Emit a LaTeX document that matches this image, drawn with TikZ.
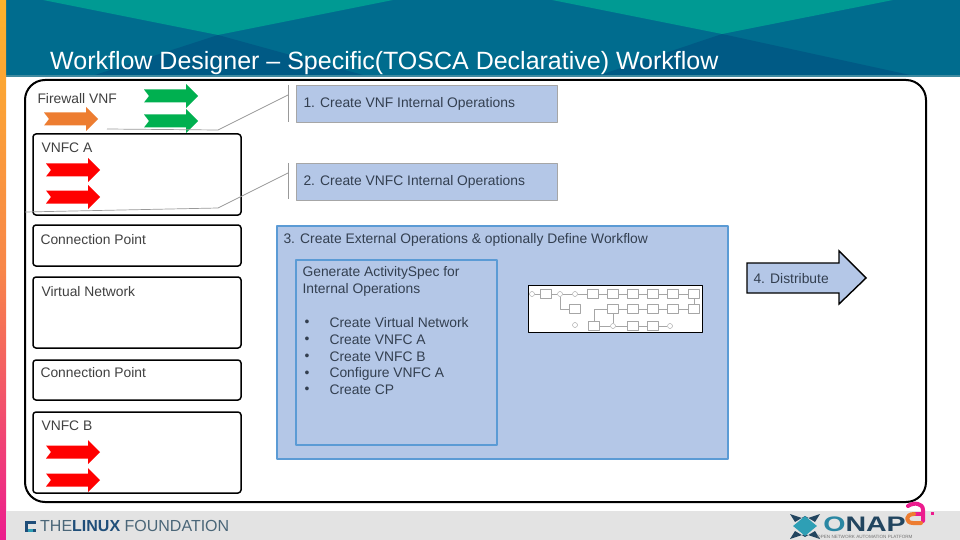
\documentclass[tikz,border=0pt]{standalone}
\usepackage{fontspec}
\setmainfont{Liberation Sans}
\usetikzlibrary{shapes.geometric}
\definecolor{bandblue}{HTML}{006C8E}
\definecolor{banddark}{HTML}{005A85}
\definecolor{bandteal}{HTML}{009A93}
\definecolor{bandedge}{HTML}{3F8AA0}
\definecolor{boxblue}{HTML}{B4C7E7}
\definecolor{edgeblue}{HTML}{5B9BD5}
\definecolor{bodytext}{HTML}{404040}
\definecolor{steptext}{HTML}{333F50}
\definecolor{lfblue}{HTML}{1F4E79}
\definecolor{lfgray}{HTML}{4A6678}
\definecolor{arrowgreen}{HTML}{00B050}
\definecolor{arroworange}{HTML}{ED7D31}
\definecolor{stripetop}{HTML}{FDB32B}
\definecolor{stripebot}{HTML}{EC1C8E}
\definecolor{onapteal}{HTML}{2E9FB5}
\definecolor{onapdark}{HTML}{22455F}
\tikzset{
	flowarrow/.pic={\fill[#1] (0,-6.5)--(42,-6.5)--(42,-12)--(54,0)--(42,12)--(42,6.5)--(0,6.5)--(5,0)--cycle;},
	partbox/.style={draw=black,line width=1.5pt,rounded corners=3pt,fill=white},
	partlabel/.style={anchor=west,yshift=-1pt,text=bodytext,font=\fontsize{13.85}{15}\selectfont},
	steplabel/.style={partlabel,text=steptext},
	stepbox/.style={draw=black!35,fill=boxblue,anchor=north west,minimum width=261pt,minimum height=37pt,inner sep=0pt},
	calloutline/.style={draw=gray!80,line width=0.7pt},
	mini/.style={draw=gray!70,line width=0.4pt,fill=white,minimum width=11pt,minimum height=9pt,inner sep=0pt},
	miniround/.style={draw=gray!80,line width=0.4pt,circle,fill=white,minimum size=5pt,inner sep=0pt}
}
\begin{document}
\begin{tikzpicture}[x=1pt,y=-1pt,line join=round]
	\useasboundingbox (0,0) rectangle (960,540);
	% header band
	\fill[bandblue] (0,0) rectangle (960,76);
	\fill[bandedge] (0,75) rectangle (960,77);
	\fill[bandteal] (43,0)--(218,35)--(393,0)--cycle;
	\fill[bandteal] (552,0)--(722,34)--(893,0)--cycle;
	\fill[banddark] (218,35)--(95,75)--(363,75)--cycle;
	\fill[banddark] (722,34)--(600,75)--(910,75)--cycle;
	\shade[top color=stripetop,bottom color=stripebot,middle color=stripetop!70!stripebot] (0,0) rectangle (6,540);
	\fill[black!11] (6,511) rectangle (960,540);
	\node[anchor=base west,inner sep=0pt,text=white,font=\fontsize{25}{28}\selectfont] (title) at (50,70) {Workflow Designer – Specific(TOSCA Declarative) Workflow};
	% outer frame
	\draw[line width=2pt,rounded corners=20pt,fill=white] (25,80) rectangle (926,502);
	\node[partlabel] (firewall) at (34,98) {Firewall VNF};
	\path (44,119) pic {flowarrow=arroworange};
	\foreach \y in {96,121} \path (144,\y) pic {flowarrow=arrowgreen};
	% parts
	\draw[partbox] (33,134) rectangle (241,215);
	\draw[partbox] (33,225) rectangle (241,266);
	\draw[partbox] (33,277) rectangle (241,348);
	\draw[partbox] (33,360) rectangle (241,400);
	\draw[partbox] (33,412) rectangle (241,493);
	\node[partlabel] (vnfca) at (38,147) {VNFC A};
	\node[partlabel] (cpa) at (37,239) {Connection Point};
	\node[partlabel] (vnet) at (38,291) {Virtual Network};
	\node[partlabel] (cpb) at (37,372) {Connection Point};
	\node[partlabel] (vnfcb) at (38,425) {VNFC B};
	\foreach \y in {170,197,452,480} \path (46,\y) pic {flowarrow=red};
	% steps
	\node[stepbox] (one) at (296,85) {};
	\node[steplabel] at (300,103) {1. Create VNF Internal Operations};
	\node[stepbox] (two) at (296,163) {};
	\node[steplabel] at (300,181) {2. Create VNFC Internal Operations};
	\coordinate (onea) at (107,129);
	\coordinate (oneb) at (218,130);
	\coordinate (onec) at (288,95);
	\coordinate (twoa) at (25,212);
	\coordinate (twob) at (218,208);
	\coordinate (twoc) at (288,173);
	\draw[calloutline] (onea)--(oneb)--(onec);
	\draw[calloutline] (twoa)--(twob)--(twoc);
	\draw[calloutline] (288,85)--(288,122);
	\draw[calloutline] (288,163)--(288,199);
	% external operations
	\draw[edgeblue,line width=1.3pt,fill=boxblue] (277,226) rectangle (728,459);
	\draw[edgeblue,line width=1.3pt] (296,260) rectangle (497,445);
	\node[steplabel] (three) at (280,239) {3. Create External Operations \& optionally Define Workflow};
	\node[steplabel,align=left] (spec) at (299,280.5) {Generate ActivitySpec for\\[1.4pt]Internal Operations};
	\foreach \y/\t in {322/Create Virtual Network,339/Create VNFC A,356/Create VNFC B,373/Configure VNFC A,389/Create CP}{
		\node[steplabel] at (301,\y) {•};
		\node[steplabel] at (326,\y) {\t};
	}
	% small workflow picture
	\draw[line width=1pt,fill=white] (528,285) rectangle (702,332);
	\node[miniround] (s) at (532,294) {};
	\node[mini] (a1) at (546,294) {};
	\node[miniround] (g1) at (560,294) {};
	\node[miniround] (g2) at (575,294) {};
	\node[mini] (a2) at (593,294) {};
	\node[mini] (a3) at (613,294) {};
	\node[mini] (a4) at (633,294) {};
	\node[mini] (a5) at (653,294) {};
	\node[mini] (a6) at (673,294) {};
	\node[mini] (a7) at (694,294) {};
	\node[mini] (b1) at (575,309) {};
	\node[mini] (b2) at (613,309) {};
	\node[mini] (b3) at (633,309) {};
	\node[mini] (b4) at (653,309) {};
	\node[mini] (b5) at (673,309) {};
	\node[mini] (b6) at (694,309) {};
	\node[mini] (c1) at (594,326) {};
	\node[miniround] (g3) at (613,326) {};
	\node[mini] (c2) at (633,326) {};
	\node[mini] (c3) at (653,326) {};
	\node[miniround] (e) at (670,326) {};
	\node[miniround] (lp) at (575,325) {};
	\foreach \p/\q in {s/a1,a1/g1,g1/g2,g2/a2,a2/a3,a3/a4,a4/a5,a5/a6,a6/a7,a7/b6,b6/b5,b5/b4,b4/b3,b3/b2,b2/g3,g3/c1,g3/c2,c2/c3,c3/e}
		\draw[gray!70,line width=0.4pt] (\p)--(\q);
	\draw[gray!70,line width=0.4pt] (g1)|-(b1);
	\draw[gray!70,line width=0.4pt] (c1)|-(b2);
	% distribute arrow
	\draw[line width=1.4pt,fill=boxblue,line join=miter] (747,263)--(839,263)--(839,251)--(866,278)--(839,304)--(839,293)--(747,293)--cycle;
	\node[steplabel] (dist) at (750,278) {4. Distribute};
	% footer logos
	\fill[lfblue] (25,521) rectangle (36,532);
	\fill[black!11] (28,524) rectangle (36,529);
	\fill[onapteal] (28,529) rectangle (33,532);
	\node[anchor=west,inner sep=0pt,text=lfgray,font=\fontsize{16}{17}\selectfont] (lf) at (40,526) {THE{\color{lfblue}\textbf{LINUX}} FOUNDATION};
	\fill[onapdark] (790,514)--(805,519)--(820,514)--(815,522)--(805,516)--(795,522)--cycle;
	\fill[onapdark] (790,539)--(805,534)--(820,539)--(815,531)--(805,537)--(795,531)--cycle;
	\node[diamond,fill=onapteal,minimum width=24pt,minimum height=20pt,inner sep=0pt] (hex) at (805,526) {};
	\node[anchor=west,inner sep=0pt,xscale=1.36,transform shape,text=onapdark,font=\fontsize{21}{23}\selectfont\bfseries] (onap) at (823,524) {\textcolor{onapteal!70!lfblue}{O}NAP};
	\node[anchor=west,inner sep=0pt,text=black!55,font=\fontsize{4.6}{5}\selectfont] (tagline) at (817,537) {OPEN NETWORK AUTOMATION PLATFORM};
	\draw[stripebot,line width=4pt,line cap=round] (908,506)..controls (914,502) and (923,503)..(923,510)--(923,521);
	\draw[stripebot,line width=3.5pt,line cap=round] (923,514)--(914,514);
	\draw[arroworange,line width=4pt,line cap=round] (914,514)..controls (905,514) and (905,523)..(913,523)--(921,523);
	\fill[stripebot] (931,512) rectangle (934,515);
\end{tikzpicture}
\end{document}
